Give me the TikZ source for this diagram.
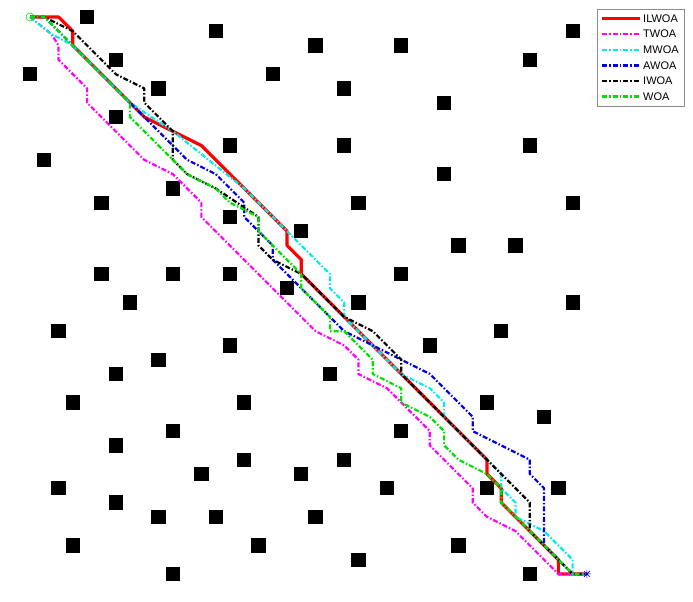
\documentclass[tikz,border=0pt]{standalone}
\usepackage{fontspec}
\setmainfont{Liberation Sans}
\definecolor{cRed}{RGB}{255,0,0}
\definecolor{cMag}{RGB}{255,0,255}
\definecolor{cCyan}{RGB}{0,235,235}
\definecolor{cBlue}{RGB}{0,0,225}
\definecolor{cBlack}{RGB}{0,0,0}
\definecolor{cGreen}{RGB}{0,225,0}
\begin{document}
\begin{tikzpicture}[x=1pt,y=-1pt,
  pbase/.style={line join=round},
  dd/.style={pbase,line width=2.2pt,dash pattern=on 5pt off 2pt on 1.5pt off 2pt},
  ilwoa/.style={pbase,draw=cRed,line width=3.2pt},
  twoa/.style={dd,draw=cMag},
  mwoa/.style={dd,draw=cCyan},
  awoa/.style={dd,draw=cBlue},
  iwoa/.style={dd,draw=cBlack},
  woa/.style={dd,draw=cGreen},
  legtext/.style={anchor=west,inner sep=0pt,font=\fontsize{11}{13}\selectfont}]
\useasboundingbox (0,0) rectangle (693,602);
\fill[white] (0,0) rectangle (693,602);
\begin{scope}[shift={(30,17)},x=14.28pt,y=-14.28pt]
  % obstacles
  \foreach \i/\j in {4/0,13/1,38/1,20/2,26/2,6/3,35/3,0/4,17/4,9/5,22/5,29/6,6/7,14/9,22/9,35/9,1/10,29/11,10/12,5/13,23/13,38/13,14/14,19/15,30/16,34/16,5/18,10/18,14/18,26/18,18/19,7/20,23/20,38/20,2/22,33/22,14/23,28/23,9/24,6/25,21/25,3/27,15/27,32/27,36/28,10/29,26/29,6/30,15/31,22/31,12/32,19/32,2/33,25/33,32/33,37/33,6/34,9/35,13/35,20/35,3/37,16/37,30/37,23/38,10/39,35/39}
    \fill[black] ({\i-0.5},{\j-0.5}) rectangle ({\i+0.5},{\j+0.5});
  % paths
  \draw[ilwoa] (0,0) -- (2,0) -- (3,1) -- (3,2) -- (7,6) -- (8,7) -- (10,8) -- (12,9) -- (18,15) -- (18,16) -- (19,17) -- (19,18) -- (32,31) -- (32,32) -- (33,33) -- (33,34) -- (37,38) -- (37,39) -- (39,39);
  \draw[twoa] (0,0) -- (1.5,1.2) -- (2,2) -- (2,3) -- (4,5) -- (4,6) -- (8,10) -- (10,11) -- (12,13) -- (12,14) -- (20,22) -- (22,23) -- (23,24) -- (23,25) -- (25,26) -- (26,27) -- (28,29) -- (28,30) -- (31,33) -- (31,34) -- (32,35) -- (34,36) -- (37,39) -- (39,39);
  \draw[mwoa] (0,0) -- (1.5,1.2) -- (2.1,1.5) -- (3,2) -- (7,6) -- (10,8) -- (15,12) -- (18,15) -- (21,18) -- (21,19) -- (22,20) -- (22,21) -- (26,25) -- (28,26) -- (29,27) -- (29,28) -- (32,31) -- (33,32) -- (33,33) -- (34,34) -- (34,35) -- (36,36) -- (38,38) -- (38,39) -- (39,39);
  \draw[awoa] (0,0) -- (1,0) -- (3,2) -- (7,6) -- (11,10) -- (13,11) -- (15,13) -- (15,14) -- (17,16) -- (17,17) -- (21,21) -- (22,22) -- (24,23) -- (26,24) -- (28,25) -- (31,28) -- (31,29) -- (35,31) -- (35,32) -- (36,33) -- (36,37) -- (37,38) -- (38,39) -- (39,39);
  \draw[iwoa] (0,0) -- (1,0) -- (3,1) -- (6,4) -- (8,5) -- (8,6) -- (10,8) -- (10,10) -- (11,11) -- (13,12) -- (16,14) -- (16,16) -- (17,17) -- (19,18) -- (22,21) -- (24,22) -- (26,24) -- (26,25) -- (35,34) -- (35,36) -- (37,38) -- (38,39) -- (39,39);
  \draw[woa] (0,0) -- (1,0) -- (3,2) -- (7,6) -- (7,7) -- (10,10) -- (11,11) -- (13,12) -- (14,13) -- (16,14) -- (16,15) -- (17,16) -- (19,18) -- (19,19) -- (21,21) -- (21,22) -- (22,22) -- (24,24) -- (24,25) -- (26,26) -- (26,27) -- (28,28) -- (29,29) -- (29,30) -- (30,31) -- (32,32) -- (33,33) -- (33,34) -- (37,38) -- (38,39) -- (39,39);
  % markers
  \node[draw=cGreen,circle,minimum size=8pt,inner sep=0pt,line width=0.6pt] (start) at (0,0) {};
  \coordinate (goal) at (39,39);
  \draw[cBlue,line width=0.6pt] ([shift={(-4pt,0pt)}]goal) -- ([shift={(4pt,0pt)}]goal)
     ([shift={(0pt,-4pt)}]goal) -- ([shift={(0pt,4pt)}]goal)
     ([shift={(-3pt,-3pt)}]goal) -- ([shift={(3pt,3pt)}]goal)
     ([shift={(-3pt,3pt)}]goal) -- ([shift={(3pt,-3pt)}]goal);
\end{scope}
% legend
\draw[draw=black!45,fill=white,line width=0.7pt] (597,9) rectangle (684,106);
\draw[ilwoa] (602,18.5) -- (640,18.5);
\node[legtext] (lg1) at (643,18.5) {ILWOA};
\draw[twoa] (602,34) -- (640,34);
\node[legtext] (lg2) at (643,34) {TWOA};
\draw[mwoa] (602,50) -- (640,50);
\node[legtext] (lg3) at (643,50) {MWOA};
\draw[awoa] (602,65.5) -- (640,65.5);
\node[legtext] (lg4) at (643,65.5) {AWOA};
\draw[iwoa] (602,81) -- (640,81);
\node[legtext] (lg5) at (643,81) {IWOA};
\draw[woa] (602,96.5) -- (640,96.5);
\node[legtext] (lg6) at (643,96.5) {WOA};
\end{tikzpicture}
\end{document}
